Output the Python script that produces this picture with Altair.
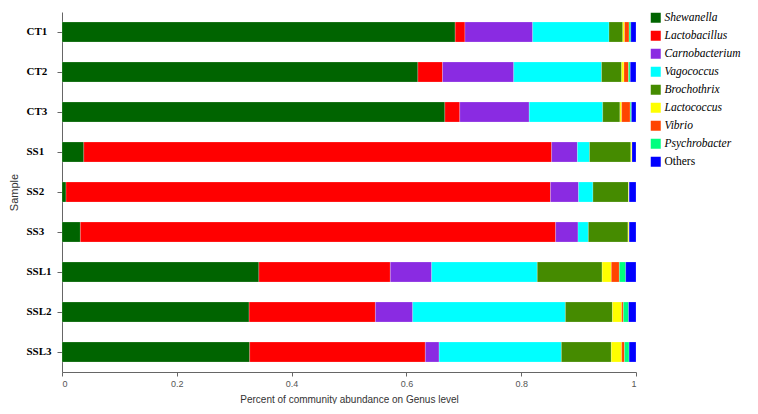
import altair as alt
import pandas as pd

samples = ["CT1", "CT2", "CT3", "SS1", "SS2", "SS3", "SSL1", "SSL2", "SSL3"]
genera = ["Shewanella", "Lactobacillus", "Carnobacterium", "Vagococcus",
          "Brochothrix", "Lactococcus", "Vibrio", "Psychrobacter", "Others"]
colors = ["#006400", "#FF0000", "#8A2BE2", "#00FFFF", "#458B00",
          "#FFFF00", "#FF4500", "#00FF7F", "#0000FF"]

# abundance per genus, in sample order
shewanella     = [0.685, 0.620, 0.667, 0.038, 0.007, 0.032, 0.343, 0.326, 0.327]
lactobacillus  = [0.017, 0.043, 0.026, 0.815, 0.844, 0.828, 0.229, 0.220, 0.306]
carnobacterium = [0.118, 0.124, 0.121, 0.045, 0.049, 0.039, 0.072, 0.065, 0.024]
vagococcus     = [0.133, 0.153, 0.128, 0.021, 0.025, 0.018, 0.184, 0.266, 0.213]
brochothrix    = [0.024, 0.035, 0.030, 0.072, 0.062, 0.069, 0.113, 0.082, 0.087]
lactococcus    = [0.003, 0.004, 0.003, 0.002, 0.001, 0.002, 0.016, 0.016, 0.018]
vibrio         = [0.008, 0.008, 0.015, 0.000, 0.000, 0.000, 0.014, 0.003, 0.005]
psychrobacter  = [0.003, 0.003, 0.002, 0.000, 0.000, 0.000, 0.011, 0.009, 0.008]
others         = [0.009, 0.010, 0.008, 0.007, 0.012, 0.012, 0.018, 0.013, 0.012]

series = [shewanella, lactobacillus, carnobacterium, vagococcus, brochothrix,
          lactococcus, vibrio, psychrobacter, others]

rows = []
for gi, (g, vals) in enumerate(zip(genera, series)):
    for s, v in zip(samples, vals):
        rows.append({"Sample": s, "Genus": g, "order": gi, "value": v})
df = pd.DataFrame(rows)

chart = alt.Chart(df).mark_bar(stroke="#FFFFFF", strokeWidth=0.3, strokeOpacity=0.7).encode(
    x=alt.X("value:Q", stack="zero",
            scale=alt.Scale(domain=[0, 1], nice=False, zero=True),
            axis=alt.Axis(title="Percent of community abundance on Genus level",
                          values=[0, 0.2, 0.4, 0.6, 0.8, 1.0], format=".1~f",
                          grid=False, domainColor="#666666", tickColor="#666666",
                          tickSize=4, labelFontSize=9, labelColor="#555555",
                          labelFont="Liberation Sans", labelPadding=3,
                          titleFont="Liberation Sans", titleFontSize=10,
                          titleFontWeight="normal", titleColor="#333333",
                          titlePadding=6)),
    y=alt.Y("Sample:N", sort=samples,
            scale=alt.Scale(paddingInner=0.5, paddingOuter=0.25),
            axis=alt.Axis(title="Sample", labelFont="Liberation Serif",
                          labelFontWeight="bold", labelFontSize=11,
                          labelColor="#000000", labelAlign="left",
                          labelPadding=31, tickSize=5, tickColor="#666666",
                          domainColor="#666666",
                          titleFont="Liberation Sans", titleFontSize=11,
                          titleFontWeight="normal", titleColor="#333333",
                          titlePadding=7)),
    color=alt.Color("Genus:N", sort=genera,
                    scale=alt.Scale(domain=genera, range=colors),
                    legend=alt.Legend(title=None, orient="right", offset=14,
                                      symbolType="square", symbolSize=100,
                                      symbolStrokeWidth=0, symbolOpacity=1,
                                      labelFont="serif",
                                      labelFontSize=11.5, labelColor="#000000",
                                      labelFontStyle={"expr": "datum.label == 'Others' ? 'normal' : 'italic'"},
                                      labelOffset=3,
                                      rowPadding=5, padding=0,
                                      labelLimit=200)),
    order=alt.Order("order:Q"),
).properties(
    width=574, height=360,
    padding={"left": 0, "top": 4, "right": 0, "bottom": 0},
).configure(
    background="white"
).configure_view(stroke=None)

chart.save("out.html", embed_options={"renderer": "svg", "actions": False})
